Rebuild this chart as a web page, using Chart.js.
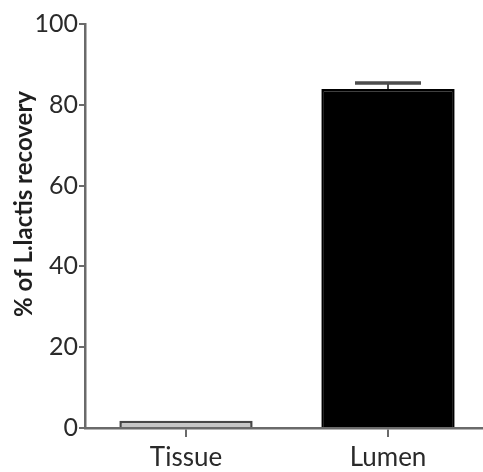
<!DOCTYPE html>
<html>
<head>
<meta charset="utf-8">
<title>L.lactis recovery</title>
<script src="https://cdn.jsdelivr.net/npm/chart.js"></script>
<style>
  body { margin: 0; background: #fff; overflow: hidden; }
  #wrap { width: 483px; height: 472px; overflow: hidden; }
</style>
<script>
// data
var categories = ['Tissue', 'Lumen'];
var recovery = [1.8, 83.9];
var recoveryErr = [0, 1.5];
var barColours = ['#c6c6c6', '#000000'];
var borderColours = ['#474747', '#000000'];
var yTicks = [0, 20, 40, 60, 80, 100];
var yTitle = '% of L.lactis recovery';

// upper error bars, placed with the chart's own scales
var errorBars = {
  id: 'errorBars',
  afterDatasetsDraw: function(chart) {
    var ctx = chart.ctx;
    var xs = chart.scales.x, ys = chart.scales.y;
    ctx.save();
    ctx.strokeStyle = '#4d4d4d';
    for (var i = 0; i < recovery.length; i++) {
      if (!recoveryErr[i]) continue;
      var x = xs.getPixelForValue(i);
      var yTop = ys.getPixelForValue(recovery[i] + recoveryErr[i]);
      var yBar = ys.getPixelForValue(recovery[i]);
      ctx.lineWidth = 2;
      ctx.beginPath(); ctx.moveTo(x, yBar); ctx.lineTo(x, yTop); ctx.stroke();
      ctx.lineWidth = 3.5;
      ctx.beginPath(); ctx.moveTo(x - 33, yTop); ctx.lineTo(x + 33, yTop); ctx.stroke();
    }
    ctx.restore();
  }
};

// y title drawn by hand so it can sit a bit above the middle like the original
var sideTitle = {
  id: 'sideTitle',
  afterDraw: function(chart) {
    var ctx = chart.ctx;
    ctx.save();
    ctx.translate(24, 204);
    ctx.rotate(-Math.PI / 2);
    ctx.font = 'bold 24px Lato';
    ctx.fillStyle = '#1e1e1e';
    ctx.textAlign = 'center';
    ctx.textBaseline = 'middle';
    ctx.fillText(yTitle, 0, 0);
    ctx.restore();
  }
};

window.onload = function() {
  var ctx = document.getElementById('myChart');
  new Chart(ctx, {
    type: 'bar',
    data: {
      labels: categories,
      datasets: [{
        data: recovery,
        backgroundColor: barColours,
        borderColor: borderColours,
        borderWidth: 2.5,
        categoryPercentage: 1,
        barPercentage: 0.66
      }]
    },
    options: {
      responsive: false,
      animation: false,
      layout: { padding: { top: 24, left: 0, right: 0, bottom: 0 } },
      plugins: { legend: { display: false }, tooltip: { enabled: false } },
      scales: {
        x: {
          afterFit: function(s) { s.height = 44; },
          border: { color: '#6a6a6a', width: 2.5 },
          grid: { offset: false, drawOnChartArea: false, drawTicks: true, tickLength: 9, color: '#6a6a6a', lineWidth: 2 },
          ticks: { color: '#2a2a2a', font: { family: 'Lato', size: 26 }, padding: 5 }
        },
        y: {
          min: 0, max: 100,
          afterFit: function(s) { s.width = 85; },
          afterBuildTicks: function(s) { s.ticks = yTicks.map(function(v) { return { value: v }; }); },
          border: { color: '#6a6a6a', width: 2.5 },
          grid: { drawOnChartArea: false, drawTicks: true, tickLength: 6, color: '#6a6a6a', lineWidth: 2 },
          ticks: { color: '#2a2a2a', font: { family: 'Lato', size: 25 }, padding: 1 }
        }
      }
    },
    plugins: [errorBars, sideTitle]
  });
};
</script>
</head>
<body>
<div id="wrap">
  <canvas id="myChart" width="489" height="472"></canvas>
</div>
</body>
</html>
